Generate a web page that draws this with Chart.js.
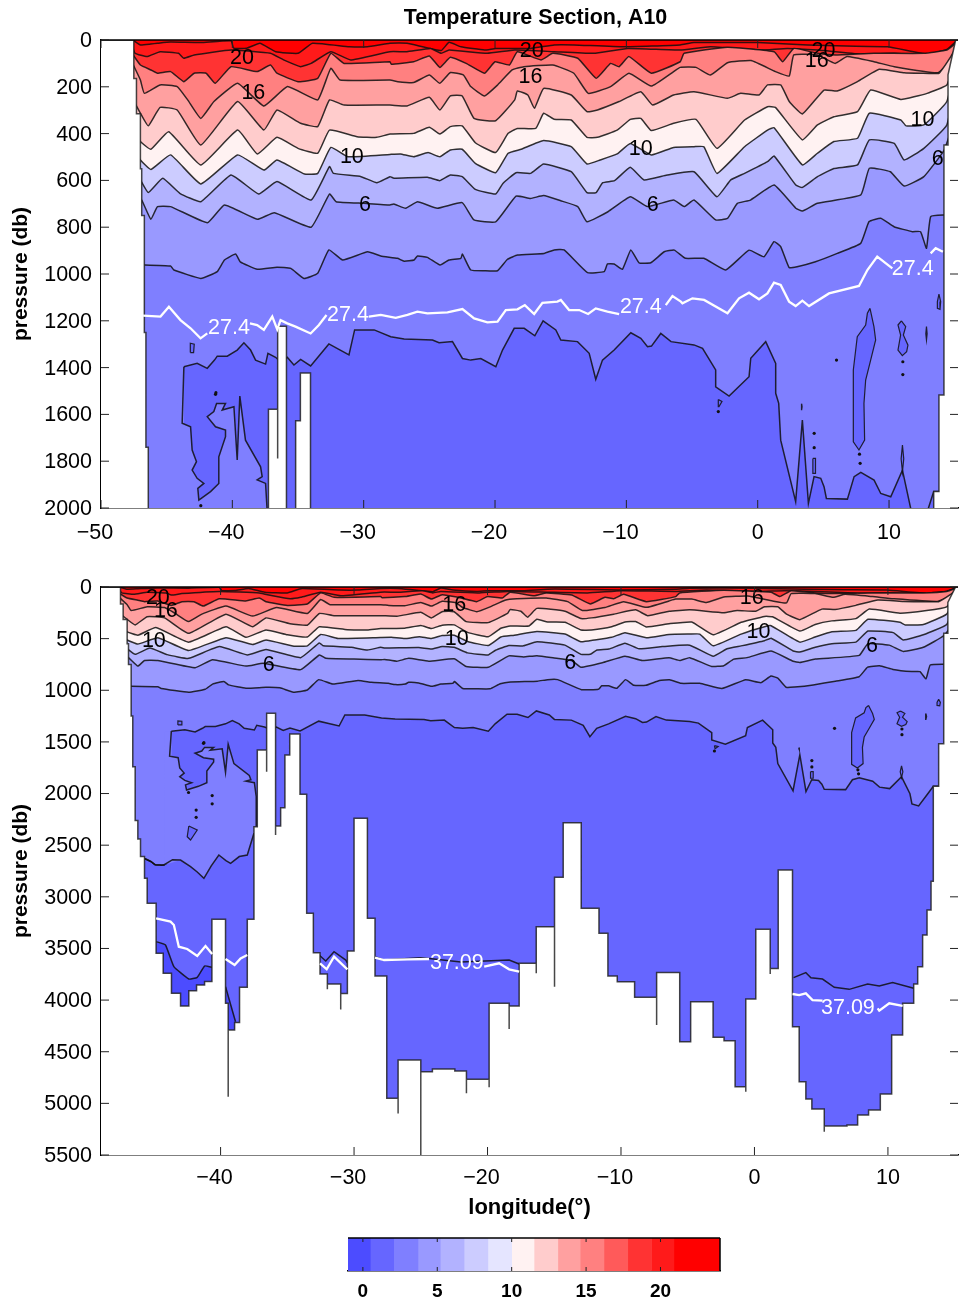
<!DOCTYPE html>
<html>
<head>
<meta charset="utf-8">
<title>Temperature Section, A10</title>
<script src="https://cdn.jsdelivr.net/npm/chart.js@4"></script>
<style>
    html, body { margin: 0; background: #fff; overflow: hidden; }
    canvas { position: absolute; left: 0; }
</style>
</head>
<body>
<canvas id="upper" width="959" height="550" style="top:0"></canvas>
<canvas id="lower" width="959" height="665" style="top:560px"></canvas>
<canvas id="bar" width="959" height="74" style="top:1225px"></canvas>
<script>
// isotherms: longitude (deg) and pressure (db)
const t22Lon = [-47.6, -47.5, -47, -46.2, -45.7, -44.7, -42.4, -40.1, -39.9, -38.9, -37.9, -36.7, -35, -33.9, -31.1, -29.7, -28, -26.7, -24.1, -23.5, -22.6, -20.8, -19.95, -17.3, -15.5, -14, -10.2, -5.9, -4.85, 0, 3.8, 6.7, 9.9, 12.9, 14.4, 15.2];
const t22Depth = [3, 3, 21, 17, 14, 9, 11, 3, 35, 35, 14, 50, 57, 14, 29, 29, 14, 14, 45, 10, 29, 43, 36, 36, 21, 21, 29, 21, 11, 11, 21, 26, 29, 60, 40, 0];

const t20Lon = [-47.6, -47.4, -46.5, -45.5, -44.1, -43.7, -42.9, -40.1, -37.1, -36.1, -34.8, -34, -32.5, -31, -28, -26.7, -24.9, -24.1, -23.5, -20.6, -18.5, -15.5, -12.5, -9.9, -5.9, -3.6, 0.2, 2.25, 4.55, 7.8, 10.4, 12.65, 14.7, 15.2];
const t20Depth = [30, 57, 71, 50, 57, 78, 64, 43, 57, 85, 114, 100, 50, 85, 50, 50, 36, 57, 43, 57, 43, 50, 57, 36, 43, 29, 43, 36, 43, 60, 57, 64, 43, 5];

const t18Lon = [-47.6, -47, -46.2, -45.7, -44.7, -43.7, -42.9, -42, -41.3, -40.1, -38.1, -37.1, -36.6, -35, -33.5, -32.5, -31.5, -28, -27.9, -26.2, -25, -24.2, -23.4, -22.2, -20.8, -20, -18.9, -18.3, -16.5, -15.6, -13.7, -12.3, -11.2, -10.55, -9.8, -8.1, -5.9, -5.6, -2.3, 1.25, 1.9, 2.75, 4.55, 5.9, 8.85, 12.65, 14.4, 15.2];
const t18Depth = [60, 107, 128, 142, 135, 178, 142, 142, 185, 114, 135, 107, 142, 178, 164, 57, 100, 93, 104, 93, 68, 117, 74, 100, 142, 93, 107, 50, 85, 57, 78, 164, 100, 114, 71, 142, 93, 57, 31, 50, 93, 36, 57, 64, 57, 57, 43, 8];

const t16Lon = [-47.6, -47, -46.7, -45.5, -44.2, -43.4, -42.4, -41.4, -39.6, -37.6, -35.8, -33.5, -32.5, -31.8, -28, -27.4, -26.2, -25, -24.2, -23.4, -22.4, -21.85, -20.8, -19.8, -18.7, -17.8, -15.6, -14, -12.9, -11.2, -9.8, -8.1, -6.4, -5.9, -4.7, -3.6, -2.3, -0.5, 1.35, 2.4, 2.75, 4.55, 5.9, 6.8, 8.85, 10.4, 13.7, 14.7, 15.2];
const t16Depth = [100, 171, 228, 192, 199, 256, 335, 263, 185, 282, 199, 256, 121, 171, 171, 178, 182, 150, 185, 139, 150, 199, 239, 192, 128, 114, 107, 142, 228, 199, 142, 197, 135, 117, 117, 150, 97, 88, 135, 154, 64, 64, 100, 71, 93, 114, 140, 85, 14];

const t14Lon = [-47.6, -47, -46.4, -45.5, -44.2, -42.4, -39.6, -37.6, -36.6, -34.8, -33.5, -32.6, -31.5, -28, -26.7, -25, -24.2, -23.4, -22.5, -21.6, -19.95, -18.5, -18.3, -17.5, -17, -16.3, -14.2, -13, -12.2, -10.55, -8.9, -8, -6.4, -4.85, -2.3, -1.3, 0.1, 0.75, 1.75, 2.4, 3.4, 5.05, 6.05, 7.6, 9.25, 11.15, 12.4, 13.8, 14.7, 15.2];
const t14Depth = [250, 313, 367, 288, 299, 449, 263, 385, 299, 356, 370, 256, 278, 278, 282, 245, 299, 239, 239, 335, 345, 256, 218, 235, 292, 207, 235, 306, 299, 263, 221, 278, 235, 221, 249, 228, 235, 192, 192, 263, 316, 214, 218, 178, 125, 140, 142, 142, 71, 20];

const t12Lon = [-47.6, -47, -46.2, -44.85, -42.4, -39.6, -38.1, -36.6, -35, -33.5, -32.6, -30.5, -29, -28, -26.2, -25, -24.2, -23.4, -22.5, -21.5, -19.95, -19, -18.3, -16.9, -16.3, -15.5, -14.2, -13, -12.2, -10.7, -9.7, -8.9, -8.1, -6.4, -4.7, -3.1, -1, 0.75, 1.35, 3.4, 4.55, 5.8, 7.6, 8.6, 10.9, 12.9, 14.4, 15, 15.2];
const t12Depth = [380, 434, 467, 392, 534, 385, 487, 416, 463, 484, 385, 413, 416, 402, 399, 373, 402, 370, 367, 439, 481, 399, 378, 378, 313, 339, 342, 416, 416, 385, 339, 335, 387, 356, 339, 463, 342, 285, 288, 427, 363, 328, 306, 214, 254, 228, 192, 85, 30];

const t10Lon = [-47.6, -47, -46.2, -44.7, -42.4, -39.6, -37.6, -36.6, -34.5, -33.5, -32.5, -31.2, -28, -27.2, -26.2, -25.1, -24.2, -23.4, -22.5, -21.5, -19.95, -19, -18, -16.3, -14.2, -13, -12, -10.7, -9.7, -8.1, -6.4, -4.85, -4.1, -3.1, -1, 0.75, 1.25, 3.4, 4.55, 5.8, 7.6, 8.5, 10.9, 11.3, 12.65, 14.4, 15.2];
const t10Depth = [460, 513, 553, 491, 615, 491, 556, 513, 573, 570, 459, 499, 489, 487, 499, 481, 499, 470, 467, 527, 567, 484, 467, 430, 456, 530, 513, 487, 442, 491, 459, 456, 456, 570, 456, 385, 375, 534, 484, 434, 420, 313, 342, 367, 363, 263, 60];

const t8Lon = [-47.6, -47, -46.4, -45.3, -44, -42.4, -40.1, -38, -36.6, -34, -32.6, -32.3, -30.2, -29, -28, -27.7, -25.15, -24.2, -23.4, -22.5, -21.5, -19.95, -19.4, -18.4, -17.3, -16.3, -14.2, -13, -12.3, -11.8, -10.9, -9.7, -8.65, -6.9, -4.85, -3.1, -2.05, -1, 0.75, 1.25, 2.9, 3.4, 4.55, 5.8, 7.6, 8.5, 10.4, 11.15, 12.65, 14.4, 15.2];
const t8Depth = [540, 598, 652, 591, 655, 691, 577, 658, 605, 684, 541, 570, 584, 610, 584, 591, 587, 601, 577, 584, 638, 658, 613, 567, 570, 530, 563, 652, 652, 610, 601, 544, 598, 577, 563, 670, 598, 570, 520, 496, 620, 630, 584, 549, 534, 427, 442, 513, 463, 363, 120];

const t6Lon = [-47.6, -46.9, -46.2, -45.7, -44.7, -41.9, -40.6, -38.1, -36.8, -34, -32.6, -32.1, -30, -28, -27.7, -26.8, -25.9, -24.4, -22.5, -21.6, -19.95, -18.4, -17.3, -16.3, -15, -13.7, -13, -11.4, -9.7, -8.4, -6.4, -5.6, -4.85, -3.2, -2.3, -1.55, -0.55, 1.25, 2.9, 3.4, 4.55, 7.85, 8.5, 10.1, 11.15, 12.65, 14.2, 15.2];
const t6Depth = [640, 684, 766, 712, 712, 781, 705, 766, 738, 800, 658, 691, 698, 705, 701, 719, 691, 719, 695, 769, 777, 667, 677, 665, 687, 712, 777, 734, 670, 712, 684, 712, 684, 769, 762, 698, 684, 620, 719, 731, 698, 662, 548, 563, 624, 584, 470, 300];

const t4Lon = [-47.6, -46.8, -44.7, -44.45, -42.4, -41.15, -40.6, -39.75, -39.4, -38.1, -36.6, -35.55, -34.55, -33.5, -32.65, -31.6, -29.7, -28.7, -27.43, -26.92, -26.16, -25.91, -25.15, -24.18, -23.5, -22.6, -22.48, -21.85, -20.83, -19.81, -19.05, -18.29, -16.26, -15.5, -14.74, -12.96, -11.69, -11.44, -10.93, -10.3, -9.66, -9.03, -8.14, -7.12, -6.35, -5.5, -4.1, -2.44, -0.66, 0.48, 1.24, 1.75, 2.39, 3, 4.4, 6.06, 7.84, 8.48, 9.37, 10.38, 11.78, 12.4, 12.85, 13.17, 14.2, 15.2];
const t4Depth = [961, 961, 966, 983, 1019, 990, 940, 915, 948, 980, 971, 976, 1019, 997, 897, 940, 905, 923, 933, 945, 940, 923, 929, 962, 940, 933, 915, 983, 986, 986, 937, 919, 912, 897, 897, 994, 990, 957, 957, 980, 897, 952, 952, 905, 898, 933, 933, 983, 898, 926, 862, 883, 972, 969, 948, 912, 869, 776, 762, 798, 819, 819, 890, 755, 748, 748];

const t2Lon = [-43.69, -42.68, -41.91, -41.36, -41.15, -40.39, -39.63, -39.12, -38.61, -38.23, -37.47, -37.29, -36.71, -36.33, -35.82, -35.31, -34.8, -34.04, -32.65, -31.12, -30.69, -29.2, -27.94, -26.92, -24.76, -24.26, -23.24, -22.48, -21.85, -21.08, -19.94, -19.43, -18.54, -17.78, -16.97, -16.34, -15.37, -14.99, -13.72, -12.83, -12.33, -11.82, -10.93, -9.66, -8.9, -8.39, -8.09, -7.38, -6.6, -4.85, -4.2, -3.2, -3.2, -2.18, -0.66, -0.53, 0.61, 1.37, 1.37, 1.6, 1.75, 2.89, 3.4, 3.86, 4.29, 4.8, 5.05, 5.23, 6.83, 7.34, 7.85, 8.86, 9.37, 10.13, 11.02, 11.65, 11.8, 12.3, 13, 13.4, 14];
const t2Depth = [1396, 1382, 1403, 1368, 1351, 1351, 1325, 1294, 1325, 1368, 1385, 1339, 1356, 1375, 1356, 1389, 1365, 1393, 1299, 1346, 1239, 1239, 1268, 1278, 1282, 1294, 1289, 1361, 1368, 1361, 1396, 1325, 1232, 1232, 1264, 1200, 1239, 1282, 1289, 1339, 1450, 1368, 1325, 1251, 1275, 1311, 1308, 1254, 1289, 1303, 1318, 1410, 1482, 1522, 1439, 1360, 1289, 1382, 1510, 1553, 1710, 1973, 1624, 1980, 1866, 1873, 1909, 1959, 1962, 1866, 1848, 1881, 1938, 1952, 1838, 2002, 2100, 2120, 2000, 1930, 1930];

// the lighter lobe under the 2 degree line, west of -37
const pocketLon = [-43.69, -43.82, -43.18, -43.06, -42.73, -43.06, -42.68, -42.17, -42.63, -42.55, -41.66, -41.03, -41.03, -40.52, -40.52, -41.28, -41.91, -41.41, -41.2, -40.52, -40.77, -39.88, -39.63, -39.43, -39, -37.85, -37.73, -38.11, -37.47, -37.33, -37.33];
const pocketDepth = [1396, 1638, 1653, 1752, 1802, 1838, 1873, 1895, 1916, 1966, 1930, 1895, 1781, 1695, 1667, 1653, 1610, 1588, 1553, 1553, 1581, 1567, 1795, 1522, 1710, 1824, 1866, 1880, 1895, 2030, 2320];
const lobeLon = [-46.4, -45.75, -45.2, -44.9, -44.25, -43.6, -43, -42.25, -41.75, -41.25, -40.7, -40.13, -39.6, -39.25, -38.6, -38, -37.5];
const lobeDepth = [2620, 2627, 2660, 2690, 2692, 2640, 2644, 2708, 2760, 2821, 2700, 2595, 2650, 2676, 2610, 2595, 2385];

// small closed pockets of the same isotherm
const loopA = { lon: [8.55, 8.85, 8.98, 8.6, 8.22, 8.09, 8.14, 7.71, 7.28, 7.28, 7.58, 8.22, 8.35, 8.55], depth: [1147, 1225, 1282, 1368, 1453, 1553, 1710, 1752, 1717, 1410, 1268, 1218, 1168, 1147] };
const loopB = { lon: [10.94, 11.27, 11.09, 11.44, 11.34, 11.01, 10.68, 10.88, 10.68, 10.94], depth: [1200, 1225, 1261, 1304, 1332, 1349, 1325, 1261, 1218, 1200] };
const loopC = { lon: [13.8, 13.93, 13.88, 13.68, 13.68, 13.8], depth: [1086, 1118, 1151, 1147, 1118, 1086] };
const loopD = { lon: [-3.0, -2.72, -2.95, -3.0], depth: [1536, 1545, 1567, 1536] };
const loopE = { lon: [-43.2, -42.95, -42.9, -43.2, -43.2], depth: [1336, 1336, 1300, 1296, 1336] };
const loopF = { lon: [-42.38, -41.75, -42.25, -42.5, -42.38], depth: [2314, 2353, 2450, 2418, 2314] };
const loopG = { lon: [11.02, 11.12, 11.02, 10.92, 11.02], depth: [1731, 1790, 1845, 1790, 1731] };
const loopH = { lon: [4.2, 4.4, 4.4, 4.2, 4.2], depth: [1788, 1788, 1852, 1852, 1788] };
const loopI = { lon: [12.85, 12.9, 12.85, 12.8, 12.85], depth: [1225, 1255, 1282, 1255, 1225] };
const loopJ = { lon: [3.35, 3.38, 3.35, 3.32, 3.35], depth: [1555, 1567, 1580, 1567, 1555] };

const spotLon = [6, 11.05, 11.05, 4.3, 4.3, -3, 7.75, 7.8, -41.28, -42.4, -41.25, -40.63, -40.63, -41.83, -41.83];
const spotDepth = [1368, 1375, 1430, 1681, 1742, 1588, 1770, 1809, 1514, 1990, 1507, 2020, 2100, 2160, 2230];

// coldest water at the floor of the western basin
const coldLon = [-44.83, -44.13, -43.5, -42.38, -41.75, -41.2, -40.65];
const coldDepth = [3434, 3466, 3676, 3796, 3780, 3670, 3683];
const coldEastLon = [-39.63, -38.88];
const coldEastDepth = [3870, 4209];
const coldMidLon = [-32.62, -32.12, -31.5, -30.62, -30.5, null, -28.43, -27.8, -25, -24.2, -22, -18.38, -17.63, null, 2.93, 3.85, 4.23, 5.1, 5.98, 7.1, 8.48, 9.35, 10.35, 11.93];
const coldMidDepth = [3563, 3621, 3531, 3612, 3640, null, 3580, 3612, 3590, 3600, 3630, 3612, 3650, null, 3783, 3734, 3783, 3796, 3876, 3896, 3844, 3864, 3831, 3886];

// sea floor and the stations' bottom edge, west to east
const floorLon = [-50, -47.5, -47.5, -47.3, -47.3, -47, -47, -46.9, -46.9, -46.7, -46.7, -46.58, -46.58, -46.4, -46.4, -46.2, -46.2, -46, -46, -45.7, -45.7, -45.5, -45.5, -44.83, -44.83, -44.3, -44.3, -43.68, -43.68, -43, -43, -42.38, -42.38, -41.8, -41.8, -41.2, -41.2, -40.65, -40.65, -39.63, -39.63, -39.43, -39.43, -39.43, -38.95, -38.95, -38.58, -38.58, -38, -38, -37.5, -37.5, -37.25, -37.25, -36.55, -36.55, -36.55, -35.88, -35.88, -35.88, -35.5, -35.5, -35.18, -35.18, -34.82, -34.82, -34.05, -34.05, -33.55, -33.55, -33.05, -33.05, -32.55, -32.55, -32, -32, -32, -31, -31, -31, -30.5, -30.5, -30, -30, -29, -29, -28.43, -28.43, -27.55, -27.55, -26.7, -26.7, -26.7, -25, -25, -25, -24.13, -24.13, -22.45, -22.45, -21.58, -21.58, -21.58, -19.88, -19.88, -19.88, -18.38, -18.38, -18.38, -17.63, -17.63, -16.35, -16.35, -16.35, -14.98, -14.98, -14.98, -14.33, -14.33, -12.98, -12.98, -11.65, -11.65, -10.98, -10.98, -10.28, -10.28, -8.98, -8.98, -7.33, -7.33, -7.33, -5.6, -5.6, -4.78, -4.78, -3.1, -3.1, -2.28, -2.28, -1.45, -1.45, -0.65, -0.65, -0.65, 0.1, 0.1, 1.18, 1.18, 1.18, 1.78, 1.78, 2.85, 2.85, 3.35, 3.35, 3.85, 3.85, 4.3, 4.3, 5.23, 5.23, 5.23, 6.93, 6.93, 7.73, 7.73, 8.55, 8.55, 9.43, 9.43, 10.28, 10.28, 11.1, 11.1, 11.93, 11.93, 12.23, 12.23, 12.6, 12.6, 12.93, 12.93, 13.23, 13.23, 13.4, 13.4, 13.8, 13.8, 14.18, 14.18, 14.49, 14.49, 15.07, 16];
const floorDepth = [0, 0, 165, 165, 315, 315, 550, 550, 750, 750, 1250, 1250, 1740, 1740, 2260, 2260, 2440, 2440, 2610, 2610, 2820, 2820, 3063, 3063, 3547, 3547, 3741, 3741, 3934, 3934, 4057, 4057, 3909, 3909, 3854, 3854, 3821, 3821, 3218, 3218, 4031, 4031, 4935, 4290, 4290, 4218, 4218, 3876, 3876, 3218, 3218, 2321, 2321, 1578, 1578, 1788, 1223, 1223, 2402, 2314, 2314, 2137, 2137, 1627, 1627, 1423, 1423, 2008, 2008, 3160, 3160, 3541, 3541, 3747, 3747, 3896, 3844, 3844, 4090, 3935, 3935, 3525, 3525, 2240, 2240, 3208, 3208, 3767, 3767, 4951, 4951, 5097, 4580, 4580, 5500, 4693, 4693, 4667, 4667, 4687, 4687, 4903, 4767, 4767, 4845, 4031, 4031, 4280, 4057, 4057, 3644, 3644, 3741, 3289, 3289, 3870, 2811, 2811, 2283, 2283, 3111, 3111, 3353, 3353, 3767, 3767, 3822, 3822, 3973, 3973, 4241, 3734, 3734, 4403, 4403, 4015, 4015, 4361, 4361, 4393, 4393, 4838, 4838, 4887, 3989, 3989, 3315, 3315, 3747, 3695, 3695, 2740, 2740, 4257, 4257, 4790, 4790, 4958, 4958, 5055, 5055, 5274, 5220, 5220, 5210, 5210, 5113, 5113, 5064, 5064, 4909, 4909, 4338, 4338, 4031, 4031, 3844, 3844, 3676, 3676, 3370, 3370, 3128, 3128, 2850, 2850, 1930, 1930, 1517, 1517, 449, 449, 149, 0, 0];

// density lines, null leaves the gap for the label
const sigma27Lon = [-46.79, -45.47, -44.83, -43.95, -43.18, -42.42, -41.91, null, -38.66, -38.11, -37.6, -36.96, -36.58, -36.33, -35.82, -35.19, -34.04, -33.41, -32.83, null, -29.6, -28.7, -27.56, -26.67, -25.91, -25.15, -23.62, -22.48, -21.59, -20.58, -19.81, -19.18, -18.29, -17.73, -17.02, -16.39, -15.25, -14.99, -14.36, -13.59, -12.91, -12.33, -11.44, -10.55, null, -7, -6.49, -5.85, -5.73, -4.97, -4.08, -2.3, -1.42, -0.66, 0.1, 0.74, 1.24, 1.75, 2.39, 2.89, 3.4, 3.91, 5.43, 7.71, 8.35, 9.1, 10.25, null, 13.17, 13.55, 14.1];
const sigma27Depth = [1178, 1182, 1140, 1197, 1232, 1275, 1254, null, 1211, 1218, 1239, 1182, 1237, 1197, 1211, 1225, 1254, 1218, 1175, null, 1182, 1175, 1187, 1175, 1161, 1168, 1164, 1150, 1190, 1207, 1204, 1154, 1151, 1133, 1171, 1123, 1118, 1111, 1154, 1154, 1171, 1147, 1161, 1171, null, 1133, 1094, 1118, 1125, 1104, 1111, 1168, 1104, 1080, 1108, 1083, 1037, 1047, 1118, 1137, 1114, 1137, 1083, 1051, 983, 926, 976, null, 912, 890, 905];
const sigma37Lon = [-44.83, -43.75, -43.5, -43.13, -42.5, -41.75, -41.13, -40.63, null, -39.63, -38.95, -38.5, -38, null, -32.55, -32.05, -31.5, -30.5, null, -28.43, -27.75, -26, -24.38, null, -20.25, -19.13, -18.38, -17.63, null, 2.85, 3.35, 3.85, 4.35, 5.1, null, 9.23, 9.35, 10.1, 11.1];
const sigma37Depth = [3208, 3240, 3273, 3483, 3505, 3573, 3476, 3554, null, 3602, 3660, 3596, 3563, null, 3644, 3702, 3579, 3702, null, 3589, 3612, 3605, 3602, null, 3676, 3644, 3702, 3725, null, 3941, 3951, 3935, 4000, 4006, null, 4080, 4102, 4031, 4057];

// contour labels
const upperLabelText = ["20", "20", "16", "20", "16", "16", "10", "10", "10", "6", "6", "6"];
const upperLabelLon = [-39.27, -17.2, -17.3, 5.0, 4.5, -38.4, -30.9, -8.9, 12.55, -29.9, -8, 13.7];
const upperLabelDepth = [73, 43, 154, 43, 85, 222, 496, 462, 338, 701, 701, 504];
const upperWhiteText = ["27.4", "27.4", "27.4", "27.4"];
const upperWhiteLon = [-40.26, -31.2, -8.9, 11.8];
const upperWhiteDepth = [1227, 1171, 1137, 974];
const lowerLabelText = ["20", "16", "10", "6", "16", "10", "6", "16", "10", "6"];
const lowerLabelLon = [-44.7, -44.1, -45, -36.4, -22.5, -22.3, -13.8, -0.2, 0.3, 8.8];
const lowerLabelDepth = [97, 223, 513, 746, 165, 494, 726, 97, 426, 562];
const lowerWhiteText = ["37.09", "37.09"];
const lowerWhiteLon = [-22.3, 7];
const lowerWhiteDepth = [3631, 4067];

// colour bar
const barEdges = [-1, 0.5, 2.07, 3.7, 5.2, 6.8, 8.4, 10, 11.5, 13.1, 14.6, 16.2, 17.8, 19.4, 20.9, 24];
const barColors = ["#4c4cff", "#6666ff", "#7f7fff", "#9999ff", "#b2b2ff", "#ccccff", "#e5e5ff", "#fff2f2", "#ffcccc", "#ffa0a0", "#ff8080", "#ff5a5a", "#ff3333", "#ff1a1a", "#ff0000"];
const barTicks = [0, 5, 10, 15, 20];

const FONT = "'Liberation Sans', Arial, sans-serif";
const LINE = "rgba(15,15,15,0.85)";

function pairs(lon, depth) {
    return lon.map((x, i) => ({ x: x, y: depth[i] }));
}

function curve(lon, depth, extra) {
    return Object.assign({
        data: pairs(lon, depth),
        showLine: true,
        pointRadius: 0,
        borderColor: LINE,
        borderWidth: 1.5,
        tension: 0,
        fill: false,
    }, extra);
}

function isotherm(lon, depth, color) {
    return curve(lon, depth, { fill: "start", backgroundColor: color, tension: 0.12 });
}

function loop(shape) {
    return curve(shape.lon, shape.depth, { fill: "shape", backgroundColor: "#6666ff", borderWidth: 1.2 });
}

function sectionDatasets() {
    const lobeFillLon = [-44.2].concat(pocketLon, lobeLon.slice(6).reverse(), [-44.2, -44.2]);
    const lobeFillDepth = [1396].concat(pocketDepth, lobeDepth.slice(6).reverse(), [2692, 1396]);
    const sets = [
        curve([-50, 16], [0, 0], { fill: "start", backgroundColor: "#ff0000", borderWidth: 0 }),
        isotherm(t22Lon, t22Depth, "#ff1a1a"),
        isotherm(t20Lon, t20Depth, "#ff3333"),
        isotherm(t18Lon, t18Depth, "#ff8080"),
        isotherm(t16Lon, t16Depth, "#ffa0a0"),
        isotherm(t14Lon, t14Depth, "#ffcccc"),
        isotherm(t12Lon, t12Depth, "#fff2f2"),
        isotherm(t10Lon, t10Depth, "#ccccff"),
        isotherm(t8Lon, t8Depth, "#b2b2ff"),
        isotherm(t6Lon, t6Depth, "#9999ff"),
        isotherm(t4Lon, t4Depth, "#7f7fff"),
        isotherm(lobeLon, lobeDepth, "#6666ff"),
        curve(t2Lon, t2Depth, { fill: "start", backgroundColor: "#6666ff" }),
        curve(lobeFillLon, lobeFillDepth, { fill: "shape", backgroundColor: "#7f7fff", borderWidth: 0 }),
        curve(pocketLon, pocketDepth),
        curve(lobeLon, lobeDepth),
        loop(loopA), loop(loopB), loop(loopC), loop(loopD), loop(loopE),
        loop(loopF), loop(loopG), loop(loopH), loop(loopI), loop(loopJ),
        { data: pairs(spotLon, spotDepth), pointRadius: 1.6, pointBackgroundColor: "#111", pointBorderWidth: 0, showLine: false },
        isotherm(coldLon, coldDepth, "#4c4cff"),
        isotherm(coldEastLon, coldEastDepth, "#4c4cff"),
        curve(coldMidLon, coldMidDepth),
        curve(floorLon, floorDepth, { fill: "start", backgroundColor: "#ffffff", borderWidth: 1.5, borderColor: "rgba(25,25,25,0.8)" }),
    ];
    sets.forEach((set, i) => { set.order = 1000 - i; });
    return sets;
}

function whiteLine(lon, depth) {
    return curve(lon, depth, { borderColor: "#ffffff", borderWidth: 2.3, order: 1 });
}

// tick marks point into the plot, on all four sides, and the top edge is closed
const frame = {
    id: "frame",
    afterDraw(chart) {
        const ctx = chart.ctx;
        const area = chart.chartArea;
        const len = chart.options.plugins.frame.tickLength;
        ctx.save();
        ctx.strokeStyle = "#000";
        ctx.lineWidth = 1.5;
        ctx.beginPath();
        ctx.moveTo(area.left, area.top);
        ctx.lineTo(area.right, area.top);
        if (chart.options.plugins.frame.closed) {
            ctx.moveTo(area.right, area.top);
            ctx.lineTo(area.right, area.bottom);
        }
        ctx.stroke();
        ctx.lineWidth = 1;
        ctx.strokeStyle = "#222";
        ctx.beginPath();
        chart.scales.x.ticks.forEach((t) => {
            const px = chart.scales.x.getPixelForValue(t.value);
            ctx.moveTo(px, area.bottom);
            ctx.lineTo(px, area.bottom - len);
            ctx.moveTo(px, area.top);
            ctx.lineTo(px, area.top + len);
        });
        if (chart.scales.y.type === "linear") {
            chart.scales.y.ticks.forEach((t) => {
                const py = chart.scales.y.getPixelForValue(t.value);
                ctx.moveTo(area.left, py);
                ctx.lineTo(area.left + len, py);
                ctx.moveTo(area.right, py);
                ctx.lineTo(area.right - len, py);
            });
        }
        ctx.stroke();
        ctx.restore();
    },
};

const contourLabels = {
    id: "contourLabels",
    afterDatasetsDraw(chart) {
        const ctx = chart.ctx;
        const groups = chart.options.plugins.contourLabels.groups;
        ctx.save();
        ctx.font = "21.5px " + FONT;
        ctx.textAlign = "center";
        ctx.textBaseline = "middle";
        groups.forEach((g) => {
            ctx.fillStyle = g.color;
            g.text.forEach((label, i) => {
                ctx.fillText(label, chart.scales.x.getPixelForValue(g.lon[i]), chart.scales.y.getPixelForValue(g.depth[i]) + 1);
            });
        });
        ctx.restore();
    },
};

// the negative labels sit left of their ticks in the reference, the title right of centre
const labelNudge = {
    id: "labelNudge",
    beforeDraw(chart) {
        chart.scales.x.getLabelItems().forEach((item) => {
            if (String(item.label).startsWith("\u2212")) {
                item.options.translation[0] -= 6;
            }
        });
        chart.scales.y.getLabelItems().forEach((item) => {
            item.options.translation[1] += 1;
        });
        if (chart.titleBlock && chart.options.plugins.title.display) {
            chart.titleBlock.left += 12;
        }
    },
};

function minusLabel(value) {
    return String(value).replace("-", "\u2212");
}

function plainLabel(value) {
    return String(value);
}

function sectionChart(id, opts) {
    return new Chart(document.getElementById(id), {
        type: "scatter",
        data: { datasets: opts.datasets },
        plugins: [labelNudge, frame, contourLabels],
        options: {
            responsive: false,
            animation: false,
            layout: { autoPadding: false, padding: { top: opts.paddingTop, right: 1, left: 0, bottom: 0 } },
            scales: {
                x: {
                    type: "linear",
                    min: opts.xMin,
                    max: 15.25,
                    afterFit(scale) {
                        scale.height = opts.xHeight;
                        scale.paddingLeft = 0;
                        scale.paddingRight = 0;
                    },
                    border: { color: "#000", width: 1.5 },
                    grid: { display: false, drawTicks: false },
                    ticks: {
                        stepSize: 10,
                        includeBounds: false,
                        autoSkip: false,
                        maxRotation: 0,
                        padding: opts.xPadding,
                        color: "#000",
                        font: { family: FONT, size: 21.5 },
                        callback: minusLabel,
                    },
                    title: opts.xTitle,
                },
                y: {
                    type: "linear",
                    reverse: true,
                    min: 0,
                    max: opts.yMax,
                    afterFit(scale) {
                        scale.width = 101;
                        scale.paddingTop = 0;
                        scale.paddingBottom = 0;
                    },
                    border: { color: "#000", width: 1.5 },
                    grid: { display: false, drawTicks: false },
                    ticks: {
                        stepSize: opts.yStep,
                        autoSkip: false,
                        padding: 9,
                        color: "#000",
                        font: { family: FONT, size: 21.5 },
                        callback: plainLabel,
                    },
                    title: {
                        display: true,
                        text: "pressure (db)",
                        color: "#000",
                        font: { family: FONT, size: 21, weight: "bold" },
                        padding: { top: 9, bottom: 0 },
                    },
                },
            },
            plugins: {
                legend: { display: false },
                tooltip: { enabled: false },
                title: opts.title || { display: false },
                frame: { tickLength: 8, closed: false },
                contourLabels: { groups: opts.labels },
            },
        },
    });
}

sectionChart("upper", {
    datasets: sectionDatasets().concat([whiteLine(sigma27Lon, sigma27Depth)]),
    paddingTop: 0,
    xMin: -50,
    yMax: 2000,
    yStep: 200,
    xHeight: 42,
    xPadding: 12,
    xTitle: { display: false },
    title: {
        display: true,
        text: "Temperature Section, A10",
        color: "#000",
        fullSize: false,
        font: { family: FONT, size: 21.5, weight: "bold", lineHeight: 1.2 },
        padding: { top: 5, bottom: 9.2 },
    },
    labels: [
        { text: upperLabelText, lon: upperLabelLon, depth: upperLabelDepth, color: "#000" },
        { text: upperWhiteText, lon: upperWhiteLon, depth: upperWhiteDepth, color: "#fff" },
    ],
});

sectionChart("lower", {
    datasets: sectionDatasets().concat([whiteLine(sigma37Lon, sigma37Depth)]),
    paddingTop: 27,
    xMin: -48.96,
    yMax: 5500,
    yStep: 500,
    xHeight: 70,
    xPadding: 10,
    xTitle: {
        display: true,
        text: "longitude(\u00b0)",
        color: "#000",
        font: { family: FONT, size: 22, weight: "bold" },
        padding: { top: 0, bottom: 4 },
    },
    labels: [
        { text: lowerLabelText, lon: lowerLabelLon, depth: lowerLabelDepth, color: "#000" },
        { text: lowerWhiteText, lon: lowerWhiteLon, depth: lowerWhiteDepth, color: "#fff" },
    ],
});

new Chart(document.getElementById("bar"), {
    type: "bar",
    data: {
        labels: ["temperature"],
        datasets: barColors.map((color, i) => ({
            data: [[barEdges[i], barEdges[i + 1]]],
            backgroundColor: color,
            borderWidth: 0,
            barPercentage: 1,
            categoryPercentage: 1,
            grouped: false,
        })),
    },
    plugins: [frame],
    options: {
        indexAxis: "y",
        responsive: false,
        animation: false,
        layout: { autoPadding: false, padding: { top: 13, left: 348, right: 239, bottom: 0 } },
        scales: {
            x: {
                type: "linear",
                min: barEdges[0],
                max: barEdges[barEdges.length - 1],
                afterBuildTicks(scale) { scale.ticks = barTicks.map((v) => ({ value: v })); },
                afterFit(scale) {
                    scale.height = 28;
                    scale.paddingLeft = 0;
                    scale.paddingRight = 0;
                },
                border: { color: "#000", width: 1.5 },
                grid: { display: false, drawTicks: false },
                ticks: {
                    autoSkip: false,
                    maxRotation: 0,
                    padding: 9,
                    color: "#000",
                    font: { family: FONT, size: 19, weight: "bold" },
                },
            },
            y: { display: false },
        },
        plugins: {
            legend: { display: false },
            tooltip: { enabled: false },
            frame: { tickLength: 4, closed: true },
        },
    },
});
</script>
</body>
</html>
